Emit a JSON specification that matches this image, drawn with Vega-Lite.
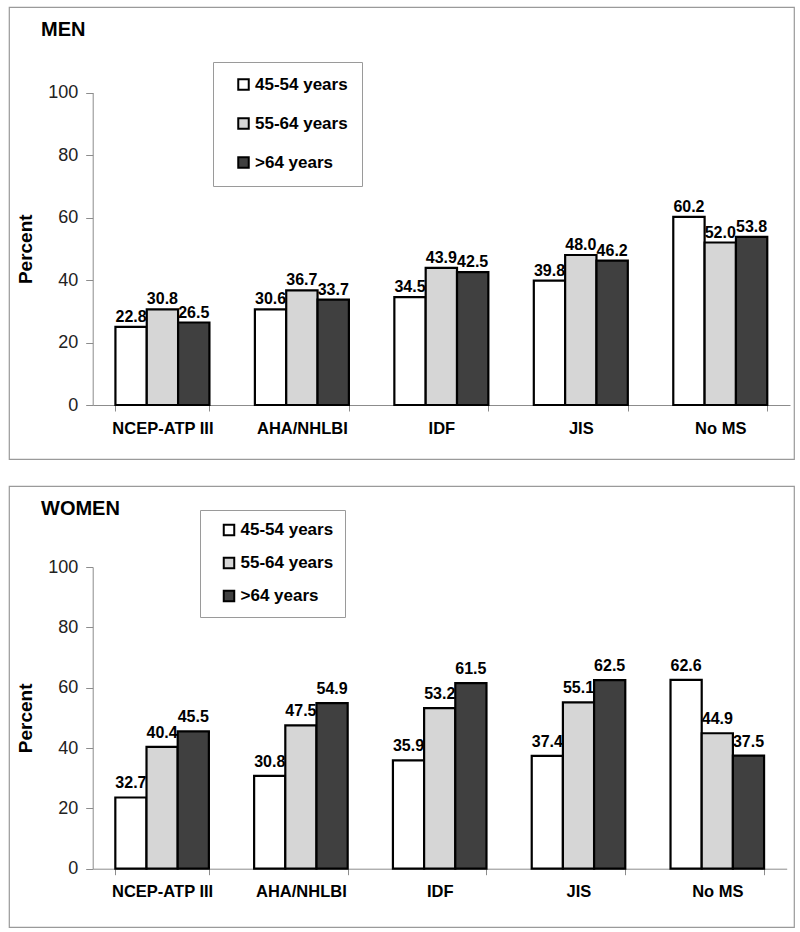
{
  "$schema": "https://vega.github.io/schema/vega-lite/v6.json",
  "padding": {"left": 8, "top": 6, "right": 0, "bottom": 0},
  "background": "white",
  "data": {"values": [
    {"sex": "MEN", "criteria": "NCEP-ATP III", "age": "45-54 years", "pct": 22.8, "bar": 25.0},
    {"sex": "MEN", "criteria": "NCEP-ATP III", "age": "55-64 years", "pct": 30.8, "bar": 30.6},
    {"sex": "MEN", "criteria": "NCEP-ATP III", "age": ">64 years", "pct": 26.5, "bar": 26.4},
    {"sex": "MEN", "criteria": "AHA/NHLBI", "age": "45-54 years", "pct": 30.6, "bar": 30.6},
    {"sex": "MEN", "criteria": "AHA/NHLBI", "age": "55-64 years", "pct": 36.7, "bar": 36.7},
    {"sex": "MEN", "criteria": "AHA/NHLBI", "age": ">64 years", "pct": 33.7, "bar": 33.7},
    {"sex": "MEN", "criteria": "IDF", "age": "45-54 years", "pct": 34.5, "bar": 34.5},
    {"sex": "MEN", "criteria": "IDF", "age": "55-64 years", "pct": 43.9, "bar": 43.9},
    {"sex": "MEN", "criteria": "IDF", "age": ">64 years", "pct": 42.5, "bar": 42.5},
    {"sex": "MEN", "criteria": "JIS", "age": "45-54 years", "pct": 39.8, "bar": 39.8},
    {"sex": "MEN", "criteria": "JIS", "age": "55-64 years", "pct": 48.0, "bar": 48.0},
    {"sex": "MEN", "criteria": "JIS", "age": ">64 years", "pct": 46.2, "bar": 46.2},
    {"sex": "MEN", "criteria": "No MS", "age": "45-54 years", "pct": 60.2, "bar": 60.2},
    {"sex": "MEN", "criteria": "No MS", "age": "55-64 years", "pct": 52.0, "bar": 52.0},
    {"sex": "MEN", "criteria": "No MS", "age": ">64 years", "pct": 53.8, "bar": 53.8},
    {"sex": "WOMEN", "criteria": "NCEP-ATP III", "age": "45-54 years", "pct": 32.7, "bar": 23.6},
    {"sex": "WOMEN", "criteria": "NCEP-ATP III", "age": "55-64 years", "pct": 40.4, "bar": 40.4},
    {"sex": "WOMEN", "criteria": "NCEP-ATP III", "age": ">64 years", "pct": 45.5, "bar": 45.5},
    {"sex": "WOMEN", "criteria": "AHA/NHLBI", "age": "45-54 years", "pct": 30.8, "bar": 30.8},
    {"sex": "WOMEN", "criteria": "AHA/NHLBI", "age": "55-64 years", "pct": 47.5, "bar": 47.5},
    {"sex": "WOMEN", "criteria": "AHA/NHLBI", "age": ">64 years", "pct": 54.9, "bar": 54.9},
    {"sex": "WOMEN", "criteria": "IDF", "age": "45-54 years", "pct": 35.9, "bar": 35.9},
    {"sex": "WOMEN", "criteria": "IDF", "age": "55-64 years", "pct": 53.2, "bar": 53.2},
    {"sex": "WOMEN", "criteria": "IDF", "age": ">64 years", "pct": 61.5, "bar": 61.5},
    {"sex": "WOMEN", "criteria": "JIS", "age": "45-54 years", "pct": 37.4, "bar": 37.4},
    {"sex": "WOMEN", "criteria": "JIS", "age": "55-64 years", "pct": 55.1, "bar": 55.1},
    {"sex": "WOMEN", "criteria": "JIS", "age": ">64 years", "pct": 62.5, "bar": 62.5},
    {"sex": "WOMEN", "criteria": "No MS", "age": "45-54 years", "pct": 62.6, "bar": 62.6},
    {"sex": "WOMEN", "criteria": "No MS", "age": "55-64 years", "pct": 44.9, "bar": 44.9},
    {"sex": "WOMEN", "criteria": "No MS", "age": ">64 years", "pct": 37.5, "bar": 37.5}
  ]},
  "config": {
    "font": "Liberation Sans",
    "view": {"stroke": "#9a9a9a", "strokeWidth": 1.2},
    "axis": {"grid": false, "domainColor": "#8c8c8c", "tickColor": "#8c8c8c", "labelFont": "Liberation Sans", "titleFont": "Liberation Sans"},
    "legend": {"labelFont": "Liberation Sans"}
  },
  "spacing": 25,
  "resolve": {"scale": {"x": "independent", "y": "independent", "color": "independent", "xOffset": "independent"}, "legend": {"color": "independent"}, "axis": {"x": "independent", "y": "independent"}},
  "vconcat": [
    {
      "width": 785,
      "height": 452,
      "transform": [{"filter": "datum.sex == 'MEN'"}],
      "title": {"text": "MEN", "anchor": "start", "frame": "group", "fontSize": 20, "fontWeight": "bold", "color": "black", "offset": 0, "dx": 32, "dy": 33},
      "encoding": {
        "x": {"field": "criteria", "type": "nominal", "sort": ["NCEP-ATP III", "AHA/NHLBI", "IDF", "JIS", "No MS"],
          "scale": {"range": [83.7, 781], "paddingInner": 0.326, "paddingOuter": 0.163},
          "axis": {"title": null, "orient": "bottom", "offset": -54, "labelAngle": 0, "labelFontSize": 16.5, "labelFontWeight": "bold", "labelColor": "black", "tickBand": "extent", "tickSize": 6, "labelPadding": 9}},
        "xOffset": {"field": "age", "type": "nominal", "sort": ["45-54 years", "55-64 years", ">64 years"], "scale": {"paddingInner": 0, "paddingOuter": 0}},
        "y": {"field": "bar", "type": "quantitative",
          "scale": {"domain": [0, 100], "range": [398, 85.5]},
          "axis": {"title": "Percent", "offset": -83.7, "values": [0, 20, 40, 60, 80, 100], "labelFontSize": 18, "labelColor": "#222222", "tickSize": 7, "labelPadding": 8, "titleFontSize": 19, "titleFontWeight": "bold", "titleColor": "black", "titlePadding": 12}}
      },
      "layer": [
        {"mark": {"type": "bar", "stroke": "black", "strokeWidth": 2.2},
         "encoding": {"color": {"field": "age", "type": "nominal",
           "scale": {"domain": ["45-54 years", "55-64 years", ">64 years"], "range": ["#ffffff", "#d6d6d6", "#404040"]},
           "legend": {"title": null, "orient": "none", "legendX": 204, "legendY": 55, "symbolType": "square", "symbolSize": 110, "symbolStrokeColor": "black", "symbolStrokeWidth": 2, "labelFontSize": 17, "labelFontWeight": "bold", "labelColor": "black", "rowPadding": 20, "padding": 14, "symbolOffset": 8, "labelOffset": 3, "strokeColor": "#9a9a9a", "fillColor": "white",
             "labelExpr": "(indexof(datum.label, '45-') < 0 && indexof(datum.label, '55-') < 0) ? '\\u2002\\u2009\\u2009' + datum.label : datum.label"}}}},
        {"mark": {"type": "text", "baseline": "bottom", "dy": -2, "fontSize": 16, "fontWeight": "bold", "color": "black"},
         "encoding": {"text": {"field": "pct", "type": "quantitative", "format": ".1f"}}}
      ]
    },
    {
      "width": 785,
      "height": 441,
      "transform": [{"filter": "datum.sex == 'WOMEN'"}],
      "title": {"text": "WOMEN", "anchor": "start", "frame": "group", "fontSize": 20, "fontWeight": "bold", "color": "black", "offset": 0, "dx": 32, "dy": 33},
      "encoding": {
        "x": {"field": "criteria", "type": "nominal", "sort": ["NCEP-ATP III", "AHA/NHLBI", "IDF", "JIS", "No MS"],
          "scale": {"range": [83.7, 777.7], "paddingInner": 0.326, "paddingOuter": 0.163},
          "axis": {"title": null, "orient": "bottom", "offset": -58.3, "labelAngle": 0, "labelFontSize": 16.5, "labelFontWeight": "bold", "labelColor": "black", "tickBand": "extent", "tickSize": 6, "labelPadding": 9}},
        "xOffset": {"field": "age", "type": "nominal", "sort": ["45-54 years", "55-64 years", ">64 years"], "scale": {"paddingInner": 0, "paddingOuter": 0}},
        "y": {"field": "bar", "type": "quantitative",
          "scale": {"domain": [0, 100], "range": [382.7, 81]},
          "axis": {"title": "Percent", "offset": -83.7, "values": [0, 20, 40, 60, 80, 100], "labelFontSize": 18, "labelColor": "#222222", "tickSize": 7, "labelPadding": 8, "titleFontSize": 19, "titleFontWeight": "bold", "titleColor": "black", "titlePadding": 12}}
      },
      "layer": [
        {"mark": {"type": "bar", "stroke": "black", "strokeWidth": 2.2},
         "encoding": {"color": {"field": "age", "type": "nominal",
           "scale": {"domain": ["45-54 years", "55-64 years", ">64 years"], "range": ["#ffffff", "#d6d6d6", "#404040"]},
           "legend": {"title": null, "orient": "none", "legendX": 191, "legendY": 24, "symbolType": "square", "symbolSize": 110, "symbolStrokeColor": "black", "symbolStrokeWidth": 2, "labelFontSize": 17, "labelFontWeight": "bold", "labelColor": "black", "rowPadding": 14, "padding": 11.5, "symbolOffset": 9, "labelOffset": 3, "strokeColor": "#9a9a9a", "fillColor": "white",
             "labelExpr": "(indexof(datum.label, '45-') < 0 && indexof(datum.label, '55-') < 0) ? '\\u2002\\u2009\\u2009' + datum.label : datum.label"}}}},
        {"mark": {"type": "text", "baseline": "bottom", "dy": -6, "fontSize": 16, "fontWeight": "bold", "color": "black"},
         "encoding": {"text": {"field": "pct", "type": "quantitative", "format": ".1f"}}}
      ]
    }
  ]
}
